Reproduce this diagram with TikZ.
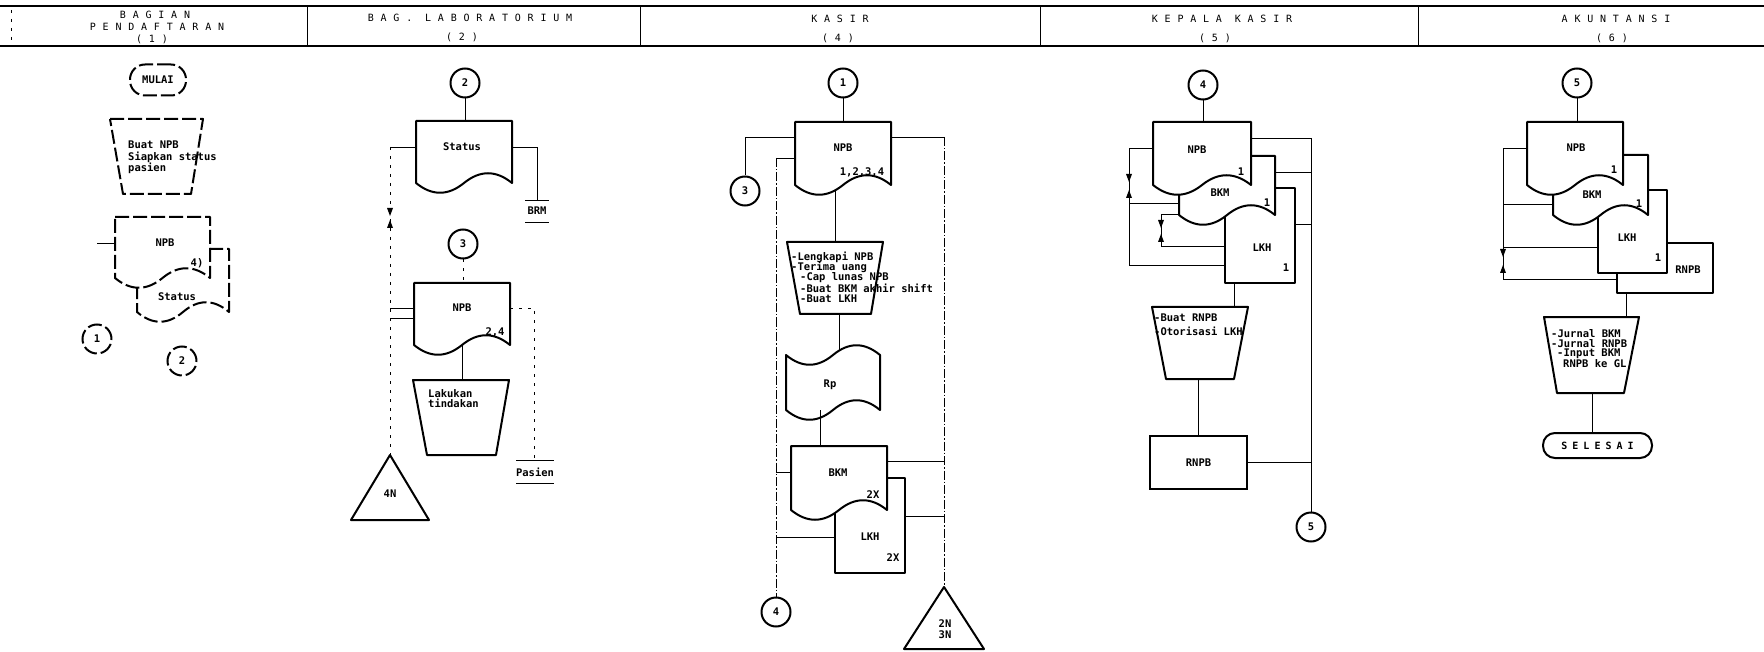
\documentclass[tikz,border=0pt]{standalone}
\usepackage{fontspec}
\newfontfamily\monofam{DejaVu Sans Mono}
\newfontfamily\hdrfam[LetterSpace=68]{DejaVu Sans Mono}
\newfontfamily\spfam[LetterSpace=50]{DejaVu Sans Mono}
\newcommand\lbl{\monofam\bfseries\fontsize{10.5}{10.5}\selectfont}
\newcommand\hdr{\hdrfam\fontsize{10}{12}\selectfont}
\newcommand\spl{\spfam\bfseries\fontsize{10}{12}\selectfont}
\newcommand\docshape[5]{%
  \pgfmathsetmacro\docW{(#4-#2)/6}%
  \pgfmathsetmacro\docM{(#2+#4)/2}%
  \draw[shp,#1] (#2,#3) -- (#4,#3) -- (#4,#5)
    .. controls ({#4-\docW},{#5-13}) and ({\docM+\docW},{#5-13}) .. (\docM,#5)
    .. controls ({\docM-\docW},{#5+13}) and ({#2+\docW},{#5+13}) .. (#2,#5) -- cycle;}
\newcommand\tapeshape[5]{%
  \pgfmathsetmacro\docW{(#4-#2)/6}%
  \pgfmathsetmacro\docM{(#2+#4)/2}%
  \draw[shp,#1] (#2,#3)
    .. controls ({#2+\docW},{#3+13}) and ({\docM-\docW},{#3+13}) .. (\docM,#3)
    .. controls ({\docM+\docW},{#3-13}) and ({#4-\docW},{#3-13}) .. (#4,#3) -- (#4,#5)
    .. controls ({#4-\docW},{#5-13}) and ({\docM+\docW},{#5-13}) .. (\docM,#5)
    .. controls ({\docM-\docW},{#5+13}) and ({#2+\docW},{#5+13}) .. (#2,#5) -- cycle;}
\newcommand\trapshape[7]{\draw[shp,#1] (#2,#4) -- (#3,#4) -- (#6,#7) -- (#5,#7) -- cycle;}
\newcommand\downmark[2]{\fill (#1-3,#2-4) -- (#1+3,#2-4) -- (#1,#2+4) -- cycle;}
\newcommand\upmark[2]{\fill (#1-3,#2+4) -- (#1+3,#2+4) -- (#1,#2-4) -- cycle;}
\begin{document}
\begin{tikzpicture}[x=1pt,y=-1pt,
  shp/.style={draw, line width=2pt, fill=white, line join=round},
  cn/.style={draw, line width=0.9pt},
  hl/.style={draw, line width=1.8pt},
  dd/.style={cn, dash pattern=on 9pt off 2pt on 1.5pt off 2pt},
  faint/.style={cn, dash pattern=on 3pt off 6pt},
  fade/.style={dash pattern=on 14pt off 4pt},
  conn/.style={draw, circle, line width=2pt, fill=white, minimum size=29pt, inner sep=0pt, font=\lbl},
  lb/.style={inner sep=0pt, font=\lbl},
  hd/.style={inner sep=0pt, font=\hdr},
  boxn/.style={draw, line width=2pt, fill=white, inner sep=0pt, font=\lbl},
]
\useasboundingbox (0,0) rectangle (1764,652);
\fill[white] (0,0) rectangle (1764,652);
% ---------- header ----------
\draw[hl] (0,6) -- (1764,6);
\draw[hl] (0,46) -- (1764,46);
\foreach \x in {307,640,1040,1418} \draw[cn] (\x,6) -- (\x,46);
\draw[faint] (11,10) -- (11,44);
\node[hd] (h1a) at (155,15) {BAGIAN};
\node[hd] (h1b) at (157,27) {PENDAFTARAN};
\node[hd] (h1c) at (152,39) {(1)};
\node[hd] (h2a) at (470,18) {BAG. LABORATORIUM};
\node[hd] (h2b) at (462,37) {(2)};
\node[hd] (h4a) at (840,19) {KASIR};
\node[hd] (h4b) at (838,38) {(4)};
\node[hd] (h5a) at (1222,19) {KEPALA KASIR};
\node[hd] (h5b) at (1215,38) {(5)};
\node[hd] (h6a) at (1616,19) {AKUNTANSI};
\node[hd] (h6b) at (1612,38) {(6)};
% ---------- column 1 ----------
\node[draw, line width=2pt, fade, rounded corners=15pt, minimum width=56pt, minimum height=31pt, inner sep=0pt, font=\lbl] (mulai) at (158,80) {MULAI};
\trapshape{fade}{110}{203}{119}{123}{191}{194}
\node[inner sep=0pt, font=\monofam\bfseries\fontsize{10.5}{11.5}\selectfont, align=left, anchor=north west] (t1) at (128,141) {Buat NPB\\Siapkan status\\pasien};
\coordinate (l1a) at (97,243);
\draw[cn] (l1a) -- (115,243);
\docshape{fade}{137}{249}{229}{312}
\docshape{fade}{115}{217}{210}{278}
\node[lb] (npb1) at (165,243) {NPB};
\node[lb] (npb1n) at (197,263) {4)};
\node[lb] (st1) at (177,297) {Status};
\node[conn, fade] (k1) at (97,339) {1};
\node[conn, fade] (k2) at (182,361) {2};
% ---------- column 2 ----------
\node[conn] (c2) at (465,83) {2};
\draw[cn] (c2) -- (465,121);
\coordinate (j2a) at (390,147);
\coordinate (t4n) at (390,455);
\draw[faint] (j2a) -- (t4n);
\downmark{390}{212}
\upmark{390}{224}
\draw[cn] (j2a) -- (416,147);
\draw[cn] (512,147) -| (537,200);
\docshape{}{416}{121}{512}{183}
\node[lb] (st2) at (462,147) {Status};
\draw[cn] (525,200) -- (549,200);
\node[lb] (brm) at (537,211) {BRM};
\draw[cn] (525,222) -- (549,222);
\node[conn] (c3) at (463,244) {3};
\draw[faint] (c3) -- (463,283);
\draw[cn] (390,308) -- (414,308);
\draw[cn] (390,318) -- (414,318);
\draw[faint] (510,308) -| (534,460);
\draw[cn] (462,345) -- (462,380);
\docshape{}{414}{283}{510}{345}
\node[lb] (npb2) at (462,308) {NPB};
\node[lb] (npb2n) at (495,332) {2,4};
\draw[cn] (516,460) -- (554,460);
\node[lb] (pas) at (535,472) {Pasien};
\draw[cn] (516,483) -- (554,483);
\trapshape{}{413}{509}{380}{427}{496}{455}
\node[lb, align=left, anchor=north west] (t2) at (428,389) {Lakukan\\tindakan};
\draw[shp] (t4n) -- (429,520) -- (351,520) -- cycle;
\node[lb] (n4n) at (390,494) {4N};
% ---------- column 4 : KASIR ----------
\node[conn] (c1k) at (843,83) {1};
\draw[cn] (c1k) -- (843,122);
\node[conn] (c3k) at (745,191) {3};
\node[conn] (c4k) at (776,612) {4};
\coordinate (t23) at (944,587);
\draw[cn] (795,137) -| (c3k.north);
\draw[cn] (795,158) -- (776,158);
\draw[dd] (776,158) -- (c4k.north);
\draw[cn] (891,137) -- (944,137);
\draw[dd] (944,137) -- (t23);
\draw[cn] (835,185) -- (835,242);
\docshape{}{795}{122}{891}{185}
\node[lb] (npb4) at (843,148) {NPB};
\node[lb] (npb4n) at (862,172) {1,2,3,4};
\trapshape{}{787}{883}{242}{800}{871}{314}
\node[lb, anchor=west] (p4a) at (791,257) {-Lengkapi NPB};
\node[lb, anchor=west] (p4b) at (791,267.5) {-Terima uang};
\node[lb, anchor=west] (p4c) at (800,278) {-Cap lunas NPB};
\node[lb, anchor=west] (p4d) at (800,288.5) {-Buat BKM akhir shift};
\node[lb, anchor=west] (p4e) at (800,299) {-Buat LKH};
\draw[cn] (839,314) -- (839,360);
\tapeshape{}{786}{355}{880}{410}
\node[lb] (rp) at (830,385) {Rp};
\draw[cn] (820,410) -- (820,446);
\draw[cn] (887,461) -- (944,461);
\draw[cn] (905,516) -- (944,516);
\draw[cn] (791,472) -- (776,472);
\draw[cn] (835,537) -- (776,537);
\draw[shp] (835,478) rectangle (905,573);
\node[lb] (lkh4) at (870,537) {LKH};
\node[lb] (lkh4n) at (893,558) {2X};
\docshape{}{791}{446}{887}{510}
\node[lb] (bkm4) at (838,473) {BKM};
\node[lb] (bkm4n) at (873,495) {2X};
\draw[shp] (t23) -- (984,649) -- (904,649) -- cycle;
\node[lb, align=center] (n23) at (945,629) {2N\\3N};
% ---------- column 5 : KEPALA KASIR ----------
\node[conn] (c4e) at (1203,85) {4};
\draw[cn] (c4e) -- (1203,122);
\node[conn] (c5e) at (1311,527) {5};
\draw[cn] (1251,138) -- (1311,138) -- (c5e.north);
\draw[cn] (1275,172) -- (1311,172);
\draw[cn] (1295,224) -- (1311,224);
\draw[cn] (1153,148) -| (1129,265) -- (1225,265);
\draw[cn] (1129,203) -- (1179,203);
\draw[cn] (1179,214) -| (1161,246) -- (1225,246);
\downmark{1129}{178}
\upmark{1129}{194}
\downmark{1161}{224}
\upmark{1161}{238}
\draw[shp] (1225,188) rectangle (1295,283);
\node[lb] (lkh5) at (1262,248) {LKH};
\node[lb] (lkh5n) at (1286,268) {1};
\docshape{}{1179}{156}{1275}{215}
\node[lb] (bkm5) at (1220,193) {BKM};
\node[lb] (bkm5n) at (1267,203) {1};
\docshape{}{1153}{122}{1251}{185}
\node[lb] (npb5) at (1197,150) {NPB};
\node[lb] (npb5n) at (1241,172) {1};
\draw[cn] (1234,283) -- (1234,307);
\trapshape{}{1152}{1248}{307}{1166}{1234}{379}
\node[lb, anchor=west] (p5a) at (1154,318) {-Buat RNPB};
\node[lb, anchor=west] (p5b) at (1154,331) {-Otorisasi LKH};
\node[boxn, minimum width=97pt, minimum height=53pt] (rnpb5) at (1198.5,462.5) {RNPB};
\draw[cn] (1198.5,379) -- (rnpb5.north);
\draw[cn] (rnpb5.east) -- (1311,462.5);
% ---------- column 6 : AKUNTANSI ----------
\node[conn] (c5f) at (1577,83) {5};
\draw[cn] (c5f) -- (1577,122);
\draw[cn] (1527,148) -| (1503,279) -- (1617,279);
\draw[cn] (1503,204) -- (1553,204);
\draw[cn] (1503,247) -- (1598,247);
\downmark{1503}{253}
\upmark{1503}{269}
\draw[shp] (1617,243) rectangle (1713,293);
\node[lb] (rnpb6) at (1688,270) {RNPB};
\draw[shp] (1598,190) rectangle (1667,273);
\node[lb] (lkh6) at (1627,238) {LKH};
\node[lb] (lkh6n) at (1658,258) {1};
\docshape{}{1553}{155}{1648}{215}
\node[lb] (bkm6) at (1592,195) {BKM};
\node[lb] (bkm6n) at (1639,204) {1};
\docshape{}{1527}{122}{1623}{185}
\node[lb] (npb6) at (1576,148) {NPB};
\node[lb] (npb6n) at (1614,170) {1};
\draw[cn] (1626,293) -- (1626,317);
\trapshape{}{1544}{1639}{317}{1557}{1624}{393}
\node[lb, anchor=west] (p6a) at (1551,334) {-Jurnal BKM};
\node[lb, anchor=west] (p6b) at (1551,344) {-Jurnal RNPB};
\node[lb, anchor=west] (p6c) at (1557,354) {-Input BKM};
\node[lb, anchor=west] (p6d) at (1563,364) {RNPB ke GL};
\node[draw, line width=2pt, rounded corners=12pt, minimum width=109pt, minimum height=25pt, inner sep=0pt, font=\spl] (sel) at (1597.5,445.5) {SELESAI};
\draw[cn] (1592,393) -- (1592,433);
\end{tikzpicture}
\end{document}
